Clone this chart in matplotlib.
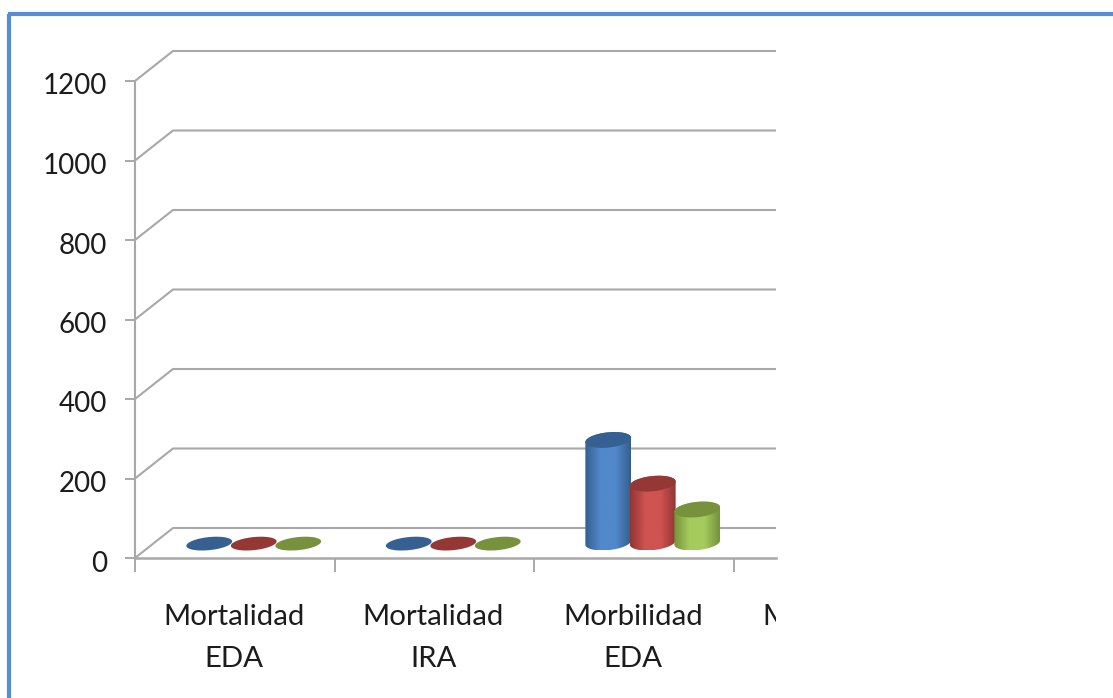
import numpy as np
import matplotlib
matplotlib.use("Agg")
import matplotlib.pyplot as plt
from matplotlib.lines import Line2D
from matplotlib.patches import Polygon
from matplotlib.colors import LinearSegmentedColormap
from matplotlib.transforms import Bbox, TransformedBbox, ScaledTranslation

categories = ["Mortalidad\nEDA", "Mortalidad\nIRA", "Morbilidad\nEDA", "Morbilidad\nIRA"]
serie_azul = [1, 1, 258]
serie_roja = [1, 1, 148]
serie_verde = [1, 1, 83]
y_ticks = [0, 200, 400, 600, 800, 1000, 1200]

W, H = 1113, 698
CLIP_X = 776
plt.rcParams["font.family"] = ["Lato", "DejaVu Sans"]

fig = plt.figure(figsize=(W / 100, H / 100), dpi=100, facecolor="white")

# ejes colocados en pixeles de la imagen
ax = fig.add_axes([135 / W, (H - 558) / H, (CLIP_X - 135) / W, (558 - 40) / H])
PX_X = 199.5            # pixeles por categoria
PX_Y = 477 / 1200       # pixeles por unidad
ax.set_xlim(0, (CLIP_X - 135) / PX_X)
ax.set_ylim(0, (558 - 40) / PX_Y)
ax.patch.set_alpha(0)

GRIS = "#a8a8a8"
dx = 38 / PX_X
dy = 30 / PX_Y

for v in y_ticks:
    ax.plot([0, dx, ax.get_xlim()[1]], [v, v + dy, v + dy], color=GRIS, lw=1.5, zorder=1, clip_on=True)

for s in ["top", "right"]:
    ax.spines[s].set_visible(False)
ax.spines["left"].set_bounds(0, 1200)
ax.spines["left"].set_color(GRIS)
ax.spines["bottom"].set_color(GRIS)
ax.spines["left"].set_linewidth(1.5)
ax.spines["bottom"].set_linewidth(1.8)

ax.set_yticks(y_ticks)
ax.tick_params(axis="y", length=7, width=1.4, color=GRIS, pad=13, labelsize=20, labelcolor="#1c1c1c")
bajar = ScaledTranslation(0, -3 / 100, fig.dpi_scale_trans)
for lab in ax.get_yticklabels():
    lab.set_transform(lab.get_transform() + bajar)

ax.set_xticks([0, 1, 2, 3])
ax.set_xticklabels([])
ax.tick_params(axis="x", which="major", length=10, width=1.4, color=GRIS)

# etiquetas como texto: la cuarta queda cortada en el borde del grafico
clip = TransformedBbox(Bbox([[0, 0], [CLIP_X / W, 1]]), fig.transFigure)
for i, cat in enumerate(categories):
    lab = ax.annotate(cat, xy=(i + 0.5, 0), xycoords=ax.get_xaxis_transform(), xytext=(-0.5, -33),
                      textcoords="offset points", ha="center", va="top", fontsize=21.2, color="#1c1c1c",
                      linespacing=1.75, annotation_clip=False)
    lab.set_clip_box(clip)
    lab.set_clip_on(True)


def elipse(cx, cy, a=23.0, b=6.8, rot=6.0):
    # contorno de una elipse inclinada, a y b en pixeles
    th = np.radians(rot)
    t0 = np.arctan2(b * np.sin(th), a * np.cos(th))
    t = np.linspace(0, 2 * np.pi, 121) + np.pi - t0
    px = a * np.cos(t) * np.cos(th) - b * np.sin(t) * np.sin(th)
    py = a * np.cos(t) * np.sin(th) + b * np.sin(t) * np.cos(th)
    return cx + px / PX_X, cy + py / PX_Y


def cilindro(x, valor, borde, centro, tapa):
    base_y = (15.5 if valor > 10 else 14) / PX_Y
    b = 7.6 if valor > 10 else 6.5
    xb, yb = elipse(x, base_y, b=b)
    xt, yt = elipse(x, base_y + valor, b=b)
    if valor > 10:
        xs = np.r_[xb[:61], xt[60:], xt[0]]
        ys = np.r_[yb[:61], yt[60:], yt[0]]
        cuerpo = Polygon(np.c_[xs, ys], closed=True, fc="none", ec="none", transform=ax.transData)
        ax.add_patch(cuerpo)
        cmap = LinearSegmentedColormap.from_list("c", [borde, centro, centro, borde])
        im = ax.imshow(np.linspace(0, 1, 64).reshape(1, -1), cmap=cmap, aspect="auto", zorder=3,
                       extent=[xs.min(), xs.max(), ys.min(), ys.max()], interpolation="bilinear")
        im.set_clip_path(cuerpo)
    ax.fill(xt, yt, color=tapa, zorder=4, lw=0)


bar_dx = 44.5 / PX_X
estilos = [
    (serie_azul, "#33608f", "#5188cc", "#376092"),
    (serie_roja, "#923634", "#cf5350", "#953735"),
    (serie_verde, "#76923c", "#a5cb5c", "#76923c"),
]
for j, (serie, borde, centro, tapa) in enumerate(estilos):
    for i, valor in enumerate(serie):
        cilindro(i + 0.5 + dx / 2 + (j - 1) * bar_dx, valor, borde, centro, tapa)

ax.set_xlim(0, (CLIP_X - 135) / PX_X)
ax.set_ylim(0, (558 - 40) / PX_Y)

# marco azul de la diapositiva
AZUL = "#558ed5"
fig.add_artist(Line2D([9 / W, 9 / W], [0, (H - 13.5) / H], color=AZUL, lw=3, solid_capstyle="butt"))
fig.add_artist(Line2D([7.5 / W, 1], [(H - 13.5) / H] * 2, color=AZUL, lw=3, solid_capstyle="butt"))

fig.savefig("out.png", dpi=100)
